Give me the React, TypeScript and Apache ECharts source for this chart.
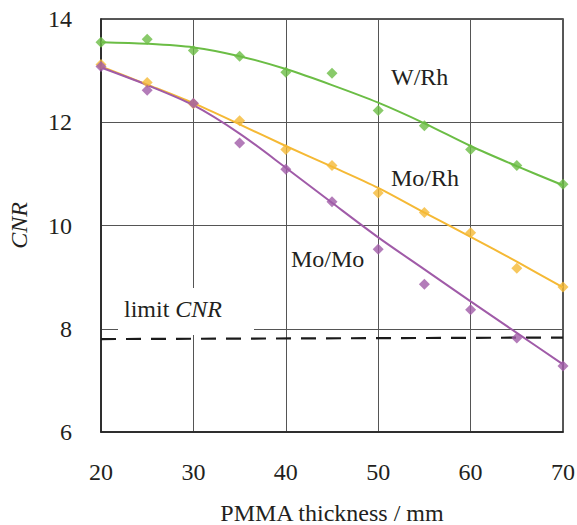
import React, { useEffect, useRef } from "react";
import * as echarts from "echarts";

const thickness = [20, 25, 30, 35, 40, 45, 50, 55, 60, 65, 70];

// measured points
const wRhPoints = [13.55, 13.61, 13.39, 13.28, 12.97, 12.95, 12.23, 11.93, 11.47, 11.16, 10.8];
const moRhPoints = [13.12, 12.77, 12.36, 12.03, 11.47, 11.16, 10.63, 10.25, 9.86, 9.17, 8.81];
const moMoPoints = [13.08, 12.62, 12.37, 11.6, 11.09, 10.46, 9.54, 8.86, 8.37, 7.82, 7.28];

// fitted curves read at the same thicknesses
const wRhFit = [13.55, 13.52, 13.45, 13.28, 13.03, 12.72, 12.38, 11.98, 11.54, 11.15, 10.78];
const moRhFit = [13.08, 12.73, 12.37, 11.96, 11.54, 11.14, 10.73, 10.25, 9.78, 9.3, 8.8];
const moMoFit = [13.06, 12.72, 12.33, 11.78, 11.12, 10.44, 9.77, 9.15, 8.53, 7.92, 7.31];

// limit CNR line
const limitX = [20, 70];
const limitY = [7.8, 7.83];

const xTicks = { min: 20, max: 70, interval: 10 };
const yTicks = { min: 6, max: 14, interval: 2 };

const GREEN = "#6bbd45";
const ORANGE = "#f5b935";
const PURPLE = "#a05ba8";
const FONT = "Times New Roman, Liberation Serif, DejaVu Serif, serif";
const TEXT = "#231f20";

const pairs = (xs: number[], ys: number[]) => xs.map((x, i) => [x, ys[i]]);

export default function App() {
  const ref = useRef<HTMLDivElement>(null);
  useEffect(() => {
    if (!ref.current) return;
    const chart = echarts.init(ref.current, undefined, { renderer: "svg" });
    const lineSeries = (name: string, ys: number[], color: string) => ({
      name,
      type: "line",
      data: pairs(thickness, ys),
      smooth: 0.3,
      showSymbol: false,
      lineStyle: { color, width: 2 },
      z: 3,
    });
    const pointSeries = (name: string, ys: number[], color: string) => ({
      name,
      type: "scatter",
      data: pairs(thickness, ys),
      symbol: "diamond",
      symbolSize: 11,
      itemStyle: { color },
      z: 4,
    });
    chart.setOption({
      animation: false,
      backgroundColor: "#ffffff",
      textStyle: { fontFamily: FONT },
      grid: {
        left: 101,
        right: 14,
        top: 19,
        bottom: 93,
        outerBoundsMode: "none",
        containLabel: false,
        show: true,
        borderColor: "#222",
        borderWidth: 1.5,
        backgroundColor: "transparent",
      },
      xAxis: {
        type: "value",
        min: xTicks.min,
        max: xTicks.max,
        interval: xTicks.interval,
        name: "PMMA thickness / mm",
        nameLocation: "middle",
        nameGap: 69,
        nameTextStyle: { fontFamily: FONT, fontSize: 24, color: TEXT },
        axisLine: { show: true, lineStyle: { color: "#222", width: 1.5 } },
        axisTick: { show: false },
        axisLabel: { fontFamily: FONT, fontSize: 24, color: TEXT, margin: 28 },
        splitLine: { show: true, lineStyle: { color: "#555", width: 1 } },
      },
      yAxis: {
        type: "value",
        min: yTicks.min,
        max: yTicks.max,
        interval: yTicks.interval,
        name: "CNR",
        nameLocation: "middle",
        nameGap: 70,
        nameTextStyle: { fontFamily: FONT, fontSize: 24, color: TEXT, fontStyle: "italic" },
        axisLine: { show: true, lineStyle: { color: "#222", width: 1.5 } },
        axisTick: { show: false },
        axisLabel: { fontFamily: FONT, fontSize: 24, color: TEXT, margin: 29 },
        splitLine: { show: true, lineStyle: { color: "#555", width: 1 } },
      },
      graphic: [
        {
          type: "rect",
          shape: { x: 118, y: 288, width: 136, height: 47 },
          style: { fill: "#ffffff" },
          z: 50,
        },
        {
          type: "text",
          x: 124,
          y: 309,
          z: 60,
          style: {
            text: "{n|limit }{i|CNR}",
            rich: {
              n: { fontFamily: FONT, fontSize: 24, fill: TEXT },
              i: { fontFamily: FONT, fontSize: 24, fill: TEXT, fontStyle: "italic" },
            },
            verticalAlign: "middle",
          },
        },
        {
          type: "text",
          x: 391,
          y: 77,
          z: 60,
          style: { text: "W/Rh", fontFamily: FONT, fontSize: 24, fill: TEXT, verticalAlign: "middle" },
        },
        {
          type: "text",
          x: 391,
          y: 178,
          z: 60,
          style: { text: "Mo/Rh", fontFamily: FONT, fontSize: 24, fill: TEXT, verticalAlign: "middle" },
        },
        {
          type: "text",
          x: 291,
          y: 259,
          z: 60,
          style: { text: "Mo/Mo", fontFamily: FONT, fontSize: 24, fill: TEXT, verticalAlign: "middle" },
        },
      ],
      series: [
        {
          name: "limit",
          type: "line",
          data: pairs(limitX, limitY),
          showSymbol: false,
          lineStyle: { color: "#1a1a1a", width: 2.2, type: [15, 10] },
          z: 2,
        },
        lineSeries("W/Rh fit", wRhFit, GREEN),
        lineSeries("Mo/Rh fit", moRhFit, ORANGE),
        lineSeries("Mo/Mo fit", moMoFit, PURPLE),
        pointSeries("W/Rh", wRhPoints, GREEN),
        pointSeries("Mo/Rh", moRhPoints, ORANGE),
        pointSeries("Mo/Mo", moMoPoints, PURPLE),
      ],
    });
    return () => chart.dispose();
  }, []);
  return (
    <div
      ref={ref}
      style={{ position: "fixed", left: 0, top: 0, width: 577, height: 525 }}
    />
  );
}
